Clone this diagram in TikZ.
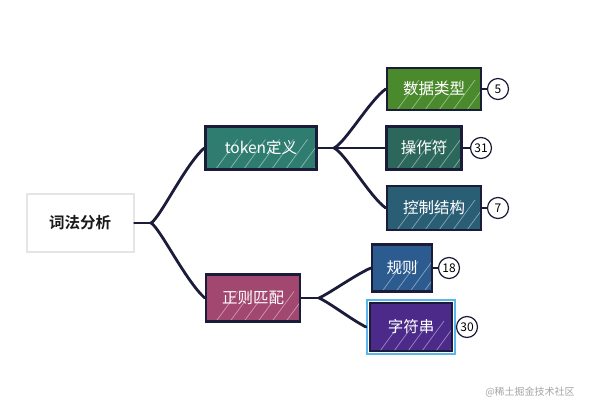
\documentclass[tikz,border=0pt]{standalone}
\usepackage{fontspec}
\setmainfont{Noto Sans CJK SC}[BoldFont={Noto Sans CJK SC Bold}]
\usetikzlibrary{positioning}
\definecolor{lineC}{HTML}{1B1B3A}
\definecolor{cTok}{HTML}{2F7D70}
\definecolor{cReg}{HTML}{A2476F}
\definecolor{cData}{HTML}{4B8A2C}
\definecolor{cOp}{HTML}{2C675C}
\definecolor{cCtl}{HTML}{2A5E74}
\definecolor{cRule}{HTML}{2B5B8F}
\definecolor{cStr}{HTML}{4B2A8A}
\definecolor{cSel}{HTML}{5BB5EE}
\tikzset{
  x=1pt,y=-1pt,
  hatch/.style={path picture={
     \foreach \k in {0,14,...,140}{
       \draw[white, opacity=0.45, line width=0.7pt]
         ([xshift=\k pt+10pt]path picture bounding box.south west) -- ++(22pt,30pt);
     }}},
  topic/.style={draw=lineC, line width=2.5pt, text=white, font=\fontsize{15.5}{17}\selectfont,
     minimum height=43pt, inner sep=0pt, anchor=center, hatch},
  cnt/.style={circle, draw=lineC, line width=1.2pt, fill=white, minimum size=21pt, inner sep=0pt,
     font=\fontsize{12}{13}\selectfont},
  conn/.style={draw=lineC, line width=2.8pt, line cap=round, line join=round},
  thin/.style={draw=lineC, line width=1.4pt}
}
\begin{document}
\begin{tikzpicture}
\useasboundingbox (0,0) rectangle (596,414);
\fill[white] (0,0) rectangle (596,414);

% root
\node[draw=black!10, line width=2pt, fill=white, minimum width=107pt, minimum height=58pt,
  font=\fontsize{15.5}{17}\selectfont\bfseries, text=black!90] (root) at (80,223) {词法分析};

% level 1
\node[topic, fill=cTok, minimum width=111pt] (tok) at (261,148) {token定义};
\node[topic, fill=cReg, minimum width=94pt, minimum height=47pt] (reg) at (253,298) {正则匹配};

% level 2
\node[topic, fill=cData, minimum width=94pt, minimum height=42pt] (data) at (434,89) {数据类型};
\node[topic, fill=cOp, minimum width=75pt, minimum height=43pt] (op) at (424,148) {操作符};
\node[topic, fill=cCtl, minimum width=94pt, minimum height=44pt] (ctl) at (434,208) {控制结构};
\node[topic, fill=cRule, minimum width=60pt, minimum height=47pt] (rule) at (402,268) {规则};
\node[draw=cSel, line width=2pt, minimum width=88pt, minimum height=54pt, inner sep=0pt] (sel) at (411,327) {};
\node[topic, fill=cStr, minimum width=82pt, minimum height=48pt] (str) at (411,327) {字符串};

% counts
\node[cnt] (n5) at (498,89) {5};
\node[cnt] (n31) at (481,148) {31};
\node[cnt] (n7) at (498,208) {7};
\node[cnt] (n18) at (449,268) {18};
\node[cnt] (n30) at (467,327) {30};

% connectors root
\coordinate (f0) at (151,223);
\draw[conn] (root.east) -- (f0);
\draw[conn] (f0) .. controls (160,218) and (185,165) .. (tok.west);
\draw[conn] (f0) .. controls (160,228) and (185,280) .. (reg.west);

% connectors token
\coordinate (f1) at (334,148);
\draw[conn] (tok.east) -- (f1);
\draw[conn] (f1) .. controls (345,143) and (370,100) .. (data.west);
\draw[conn] (f1) -- (op.west);
\draw[conn] (f1) .. controls (345,153) and (370,197) .. (ctl.west);

% connectors regex
\coordinate (f2) at (319,298);
\draw[conn] (reg.east) -- (f2);
\draw[conn] (f2) .. controls (330,293) and (355,275) .. (rule.west);
\draw[conn] (f2) .. controls (330,303) and (352,320) .. (sel.west);

% count links
\draw[thin] (data.east) -- (n5);
\draw[thin] (op.east) -- (n31);
\draw[thin] (ctl.east) -- (n7);
\draw[thin] (rule.east) -- (n18);
\draw[thin] (sel.east) -- (n30);

% watermark
\node[text=black!35, font=\fontsize{10}{12}\selectfont] (wm) at (530,392) {@稀土掘金技术社区};
\end{tikzpicture}
\end{document}
